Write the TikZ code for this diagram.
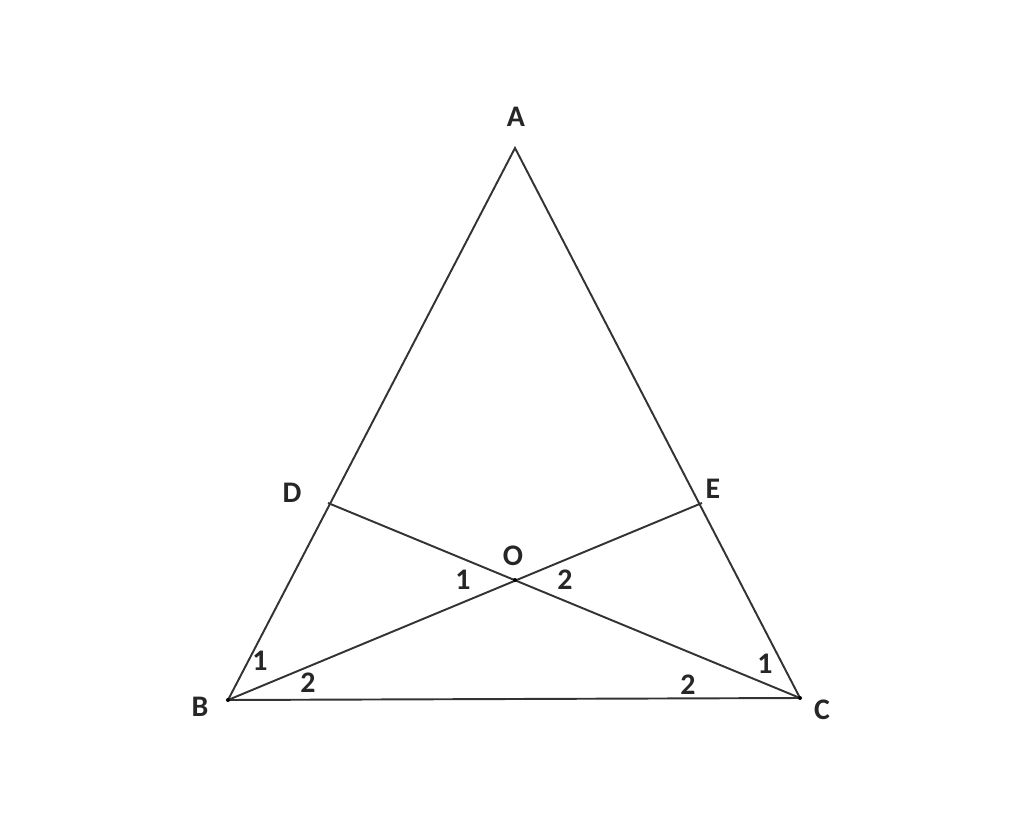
\documentclass[tikz,border=0pt]{standalone}
\usepackage{fontspec}
\setmainfont{Carlito}
\usepackage{xcolor}
\begin{document}
\begin{tikzpicture}[x=0.02cm, y=-0.02cm,
    every node/.style={font=\bfseries\fontsize{17}{20}\selectfont, text=black!85, inner sep=1pt},
    side/.style={draw=black!80, line width=1.1pt}]
    \useasboundingbox (0,0) rectangle (1024,820);
    \coordinate (A) at (515,148);
    \coordinate (B) at (228,700);
    \coordinate (C) at (800,698);
    \coordinate (D) at (328,503);
    \coordinate (E) at (702,503);
    \coordinate (O) at (515,580);

    \node (lA) at (516,117) {A};
    \node (lB) at (200,707) {B};
    \node (lC) at (822,710) {C};
    \node (lD) at (292,493) {D};
    \node (lE) at (713,489) {E};
    \node (lO) at (513,556) {O};
    \node (o1) at (463,580) {1};
    \node (o2) at (565,580) {2};
    \node (b1) at (260,661) {1};
    \node (b2) at (308,683) {2};
    \node (c2) at (688,685) {2};
    \node (c1) at (765,664) {1};

    \draw[side] (A) -- (B) -- (C) -- cycle;
    \draw[side] (D) -- (C);
    \draw[side] (B) -- (E);
    \fill[black] (B) circle (2) (C) circle (2) (O) circle (2);
\end{tikzpicture}
\end{document}
